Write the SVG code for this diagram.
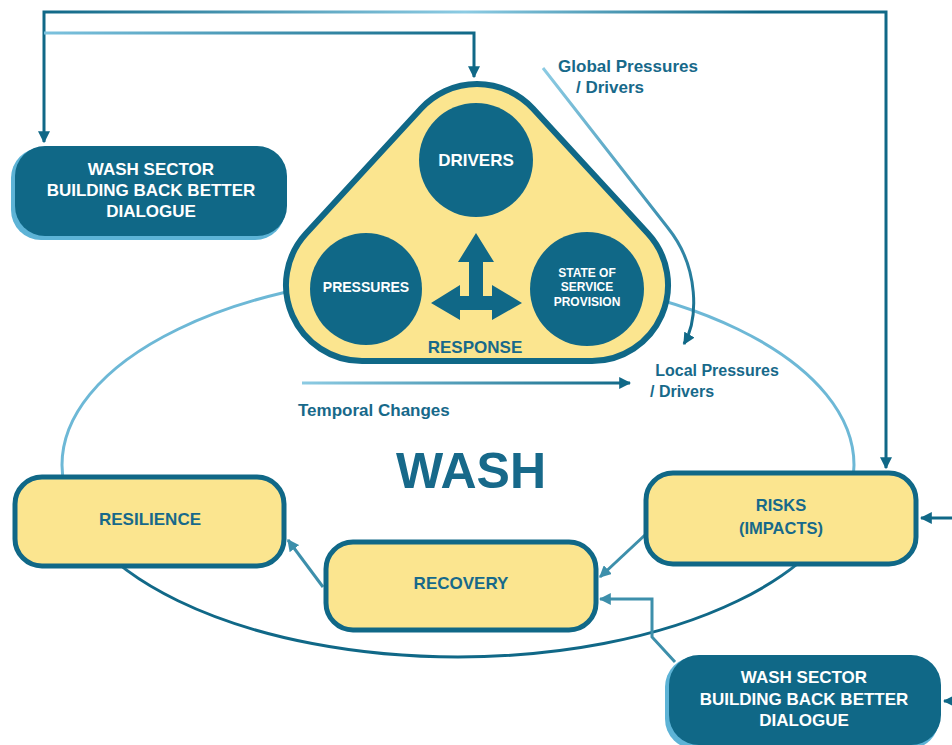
<svg xmlns="http://www.w3.org/2000/svg" width="952" height="745" viewBox="0 0 952 745">
<style>
.t{font-family:"Liberation Sans",Arial,sans-serif;font-weight:bold;text-anchor:middle}
.dk{fill:#17698a}
.wt{fill:#ffffff}
.ybox{fill:#fbe58f;stroke:#106887;stroke-width:5}
.circ{fill:#106887}
.conn{fill:none;stroke-width:3}
</style>
<defs>
<marker id="ah" viewBox="0 0 10 10" refX="9" refY="5" markerWidth="4" markerHeight="4" orient="auto-start-reverse" markerUnits="strokeWidth">
<path d="M0,0 L10,5 L0,10 Z" fill="#106887"/>
</marker>
<marker id="ahl" viewBox="0 0 10 10" refX="9" refY="5" markerWidth="4" markerHeight="4" orient="auto" markerUnits="strokeWidth">
<path d="M0,0 L10,5 L0,10 Z" fill="#3d8fab"/>
</marker>
<linearGradient id="gTop" gradientUnits="userSpaceOnUse" x1="44" y1="0" x2="886" y2="0">
<stop offset="0" stop-color="#106887"/>
<stop offset="0.5" stop-color="#8ccbe3"/>
<stop offset="0.85" stop-color="#106887"/>
</linearGradient>
<linearGradient id="gIn" gradientUnits="userSpaceOnUse" x1="44" y1="0" x2="474" y2="0">
<stop offset="0" stop-color="#7cc2de"/>
<stop offset="1" stop-color="#106887"/>
</linearGradient>
<linearGradient id="gGlob" gradientUnits="userSpaceOnUse" x1="543" y1="68" x2="690" y2="345">
<stop offset="0" stop-color="#8ccbe3"/>
<stop offset="0.6" stop-color="#3f93b3"/>
<stop offset="1" stop-color="#106887"/>
</linearGradient>
<linearGradient id="gTemp" gradientUnits="userSpaceOnUse" x1="302" y1="0" x2="632" y2="0">
<stop offset="0" stop-color="#8ccbe3"/>
<stop offset="1" stop-color="#106887"/>
</linearGradient>
<linearGradient id="gEll" gradientUnits="userSpaceOnUse" x1="0" y1="273" x2="0" y2="657">
<stop offset="0" stop-color="#6db8d6"/>
<stop offset="0.6" stop-color="#6db8d6"/>
<stop offset="0.8" stop-color="#106887"/>
<stop offset="1" stop-color="#106887"/>
</linearGradient>
</defs>
<rect width="952" height="745" fill="#ffffff"/>

<g id="wash-cycle">
<ellipse cx="458" cy="465" rx="396" ry="192" fill="none" stroke="url(#gEll)" stroke-width="3"/>
<text class="t dk" x="471" y="488" font-size="50">WASH</text>
</g>

<g id="connectors">
<path class="conn" d="M44,142 L44,12 L886,12 L886,468" stroke="url(#gTop)" marker-start="url(#ah)" marker-end="url(#ah)"/>
<path class="conn" d="M44,33 L474,33 L474,77" stroke="url(#gIn)" marker-end="url(#ah)"/>
<path class="conn" d="M543,68 L668,228 C700,268 698,320 684,344" stroke="url(#gGlob)" stroke-width="2.5" marker-end="url(#ah)"/>
<path class="conn" d="M302,383 L630,383" stroke="url(#gTemp)" marker-end="url(#ah)"/>
<path class="conn" d="M952,518 L921,518" stroke="#106887" marker-end="url(#ah)"/>
<path class="conn" d="M952,701 L944,701" stroke="#106887" marker-end="url(#ah)"/>
<path class="conn" d="M645,535 L600,577" stroke="#3d8fab" marker-end="url(#ahl)"/>
<path class="conn" d="M675,662 L652,637 L652,599 L600,599" stroke="#3d8fab" marker-end="url(#ahl)"/>
<path class="conn" d="M323,587 L288,540" stroke="#3d8fab" marker-end="url(#ahl)"/>
</g>

<g id="dialogue-top">
<rect x="11" y="148" width="274" height="92" rx="30" fill="#5db3d6"/>
<rect x="15" y="146" width="272" height="90" rx="30" fill="#106887"/>
<text class="t wt" x="151" y="175" font-size="17">WASH SECTOR</text>
<text class="t wt" x="151" y="196" font-size="17">BUILDING BACK BETTER</text>
<text class="t wt" x="151" y="217" font-size="17">DIALOGUE</text>
</g>

<g id="response">
<path d="M421.1,108.5 A76,76 0 0 1 532.9,108.5 L647.9,233.5 A76,76 0 0 1 592,361 L362,361 A76,76 0 0 1 306.1,233.5 Z" fill="#fbe58f" stroke="#106887" stroke-width="6"/>
<path d="M476,233 L494,262 L483,262 L483,296 L492,296 L492,285 L522,303 L492,320 L492,310 L460,310 L460,320 L431,303 L460,285 L460,296 L469,296 L469,262 L458,262 Z" fill="#106887"/>
<text class="t dk" x="475" y="353" font-size="17">RESPONSE</text>
</g>

<g id="drivers">
<circle class="circ" cx="476" cy="160" r="57"/>
<text class="t wt" x="476" y="166" font-size="17">DRIVERS</text>
</g>

<g id="pressures">
<circle class="circ" cx="366" cy="289" r="56"/>
<text class="t wt" x="366" y="292" font-size="14">PRESSURES</text>
</g>

<g id="state">
<circle class="circ" cx="587" cy="289" r="57"/>
<text class="t wt" x="587" y="277" font-size="12">STATE OF</text>
<text class="t wt" x="587" y="291" font-size="12">SERVICE</text>
<text class="t wt" x="587" y="306" font-size="12">PROVISION</text>
</g>

<g id="global-label">
<text class="t dk" x="628" y="72" font-size="17">Global Pressures</text>
<text class="t dk" x="610" y="93" font-size="17">/ Drivers</text>
</g>

<g id="local-label">
<text class="t dk" x="717" y="376" font-size="16" style="text-anchor:middle">Local Pressures</text>
<text class="t dk" x="650" y="397" font-size="16" style="text-anchor:start">/ Drivers</text>
</g>

<g id="temporal-label">
<text class="t dk" x="298" y="416" font-size="17" style="text-anchor:start">Temporal Changes</text>
</g>

<g id="resilience">
<rect class="ybox" x="15" y="477" width="269" height="89" rx="27"/>
<text class="t dk" x="150" y="525" font-size="17">RESILIENCE</text>
</g>

<g id="recovery">
<rect class="ybox" x="326" y="542" width="270" height="88" rx="27"/>
<text class="t dk" x="461" y="589" font-size="17">RECOVERY</text>
</g>

<g id="risks">
<rect class="ybox" x="646" y="473" width="270" height="91" rx="27"/>
<text class="t dk" x="781" y="511" font-size="16.5">RISKS</text>
<text class="t dk" x="781" y="534" font-size="16.5">(IMPACTS)</text>
</g>

<g id="dialogue-bottom">
<rect x="665" y="657" width="274" height="92" rx="30" fill="#5db3d6"/>
<rect x="669" y="655" width="272" height="90" rx="30" fill="#106887"/>
<text class="t wt" x="804" y="683" font-size="17">WASH SECTOR</text>
<text class="t wt" x="804" y="705" font-size="17">BUILDING BACK BETTER</text>
<text class="t wt" x="804" y="726" font-size="17">DIALOGUE</text>
</g>
</svg>
